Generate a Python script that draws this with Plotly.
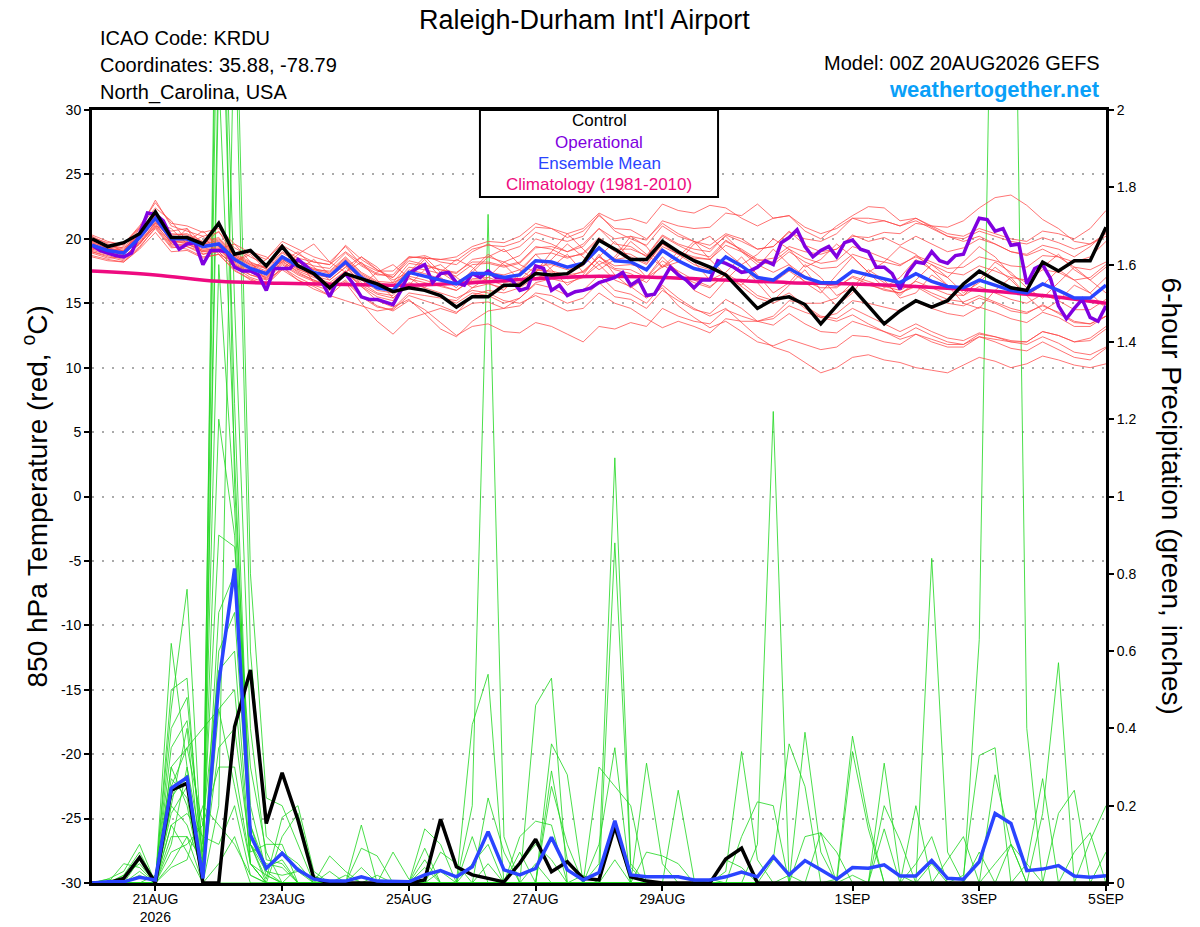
import pandas as pd
import plotly.graph_objects as go

# GEFS 00Z 20AUG2026 run, 6-hourly to 384h (operational GFS is 3-hourly)
run_start = "2026-08-20 00:00"
run_end = "2026-09-05 00:00"
times = pd.date_range(run_start, periods=65, freq="6h")
op_times = pd.date_range(run_start, periods=129, freq="3h")
clim_times = pd.date_range(run_start, periods=17, freq="D")

# 850 hPa temperature (C)
control_temp = [
    20.0, 19.4, 19.7, 20.4, 22.1, 20.1, 20.1, 19.6, 21.2, 18.8, 19.1, 17.9, 19.4,
    17.9, 17.3, 16.2, 17.3, 16.9, 16.5, 15.9, 16.2, 16.0, 15.6, 14.7, 15.5, 15.5,
    16.4, 16.4, 17.3, 17.2, 17.3, 18.1, 19.9, 19.2, 18.4, 18.4, 19.8, 19.0, 18.3,
    17.8, 17.2, 15.9, 14.6, 15.3, 15.5, 14.9, 13.4, 14.8, 16.2, 14.8, 13.4, 14.4,
    15.2, 14.7, 15.2, 16.5, 17.5, 16.8, 16.2, 16.0, 18.2, 17.5, 18.3, 18.3, 20.9,
]
mean_temp = [
    19.5, 19.1, 18.9, 20.1, 21.6, 20.0, 20.0, 19.4, 19.6, 18.4, 17.7, 17.3, 18.6,
    17.9, 17.4, 17.1, 18.2, 17.0, 16.2, 16.0, 17.4, 17.1, 16.8, 16.5, 17.3, 17.3,
    17.0, 17.2, 18.3, 18.2, 17.8, 18.1, 19.3, 18.3, 18.2, 17.6, 19.1, 18.3, 17.7,
    17.4, 18.6, 17.9, 17.0, 16.8, 17.7, 17.0, 16.6, 16.6, 17.5, 17.2, 16.9, 16.6,
    17.3, 16.7, 16.3, 16.2, 16.8, 16.4, 16.0, 15.8, 16.5, 16.0, 15.4, 15.4, 16.4,
]
oper_temp = [
    19.5, 19.1, 18.9, 18.7, 18.6, 18.9, 20.4, 22.0, 21.9, 21.4, 20.1, 19.2, 19.6,
    19.7, 18.0, 19.1, 19.1, 19.0, 17.8, 17.5, 17.5, 17.2, 16.0, 17.7, 17.7, 17.7,
    18.4, 17.9, 17.3, 16.7, 15.5, 16.8, 17.3, 16.5, 15.5, 15.3, 15.3, 15.1, 14.9,
    16.0, 17.3, 17.7, 18.0, 16.6, 17.3, 17.4, 16.6, 16.4, 17.3, 17.0, 17.5, 17.0,
    17.0, 16.8, 16.0, 16.2, 17.9, 17.7, 16.0, 16.4, 15.6, 15.9, 16.0, 16.2, 16.6,
    16.8, 17.0, 17.4, 16.4, 16.8, 15.6, 15.7, 16.8, 17.8, 17.2, 16.8, 16.2, 16.8,
    16.8, 18.3, 18.1, 17.8, 17.4, 17.5, 17.8, 18.3, 18.0, 19.7, 20.1, 20.7, 19.4,
    18.6, 19.1, 19.4, 18.6, 19.7, 19.9, 19.2, 19.0, 17.8, 17.8, 17.3, 16.1, 17.4,
    18.2, 18.1, 19.0, 18.3, 18.1, 18.7, 18.8, 20.3, 21.6, 21.5, 20.6, 20.8, 19.5,
    19.6, 16.5, 17.7, 18.0, 16.9, 14.8, 13.8, 14.6, 15.3, 13.9, 13.6, 14.8,
]
clim_temp = [17.5, 17.2, 16.7, 16.55, 16.45, 16.4, 16.6, 16.9, 17.1,
             17.0, 16.8, 16.6, 16.5, 16.3, 16.0, 15.6, 15.0]

temp_members = [
    [20.3, 19.8, 19.5, 20.8, 23.0, 21.0, 20.6, 20.2, 20.5, 19.3, 18.6, 18.0, 19.5,
     18.8, 18.2, 18.0, 19.5, 18.4, 17.6, 17.0, 18.5, 18.7, 18.2, 18.0, 19.0, 19.6,
     19.0, 19.4, 20.5, 20.1, 19.8, 20.2, 21.9, 20.6, 20.0, 19.5, 21.0, 20.2, 19.8,
     19.5, 20.4, 20.0, 19.2, 19.4, 20.6, 19.5, 19.0, 19.2, 20.3, 19.8, 20.1, 19.5,
     20.2, 19.6, 19.0, 19.3, 20.0, 19.6, 19.0, 18.8, 19.5, 19.2, 18.6, 19.4, 20.5],
    [18.6, 18.3, 18.2, 19.2, 20.5, 19.0, 19.1, 18.5, 18.8, 17.5, 16.9, 16.4, 17.8,
     16.8, 16.3, 15.6, 16.7, 15.5, 14.7, 14.5, 15.6, 15.2, 14.8, 14.3, 15.0, 15.1,
     14.6, 14.8, 15.8, 15.6, 15.0, 15.4, 16.6, 15.5, 15.3, 14.6, 16.0, 15.2, 14.5,
     14.2, 15.3, 14.6, 13.6, 13.3, 14.2, 13.4, 12.8, 12.7, 13.6, 13.2, 12.8, 12.4,
     13.1, 12.5, 12.0, 11.8, 12.4, 12.0, 11.5, 11.3, 12.0, 11.4, 10.8, 10.6, 11.5],
    [19.8, 19.2, 19.6, 20.9, 22.4, 21.4, 19.8, 20.6, 19.4, 18.2, 19.0, 18.6, 17.6,
     18.8, 19.6, 18.2, 17.4, 18.6, 17.8, 16.6, 17.2, 18.4, 17.0, 16.2, 17.6, 18.8,
     18.0, 16.8, 17.4, 19.0, 20.4, 19.2, 18.0, 18.6, 20.2, 19.4, 17.8, 18.6, 19.8,
     18.4, 17.2, 16.4, 17.8, 19.2, 18.0, 16.6, 15.8, 17.2, 18.6, 17.4, 16.2, 17.0,
     18.4, 17.6, 16.4, 15.6, 16.8, 18.2, 17.4, 16.2, 15.4, 16.6, 17.8, 16.8, 15.8],
    [19.1, 18.8, 18.5, 19.8, 21.2, 19.6, 19.4, 19.0, 19.2, 18.0, 17.2, 16.9, 18.1,
     17.3, 16.8, 16.4, 17.4, 16.3, 15.5, 15.2, 16.5, 16.0, 15.5, 15.0, 15.8, 15.6,
     15.0, 15.4, 16.5, 16.2, 15.6, 16.0, 17.2, 16.0, 15.7, 15.0, 16.4, 15.4, 14.6,
     14.0, 14.6, 13.5, 12.4, 11.6, 11.2, 10.4, 9.6, 10.0, 10.8, 11.0, 10.6, 10.4,
     10.0, 9.8, 9.6, 10.2, 10.8, 10.5, 10.0, 10.3, 10.9, 10.6, 10.2, 10.0, 10.3],
    [19.3, 19.0, 18.8, 20.0, 22.0, 20.4, 20.3, 19.7, 20.0, 18.8, 18.1, 17.8, 19.2,
     18.5, 18.2, 18.0, 19.0, 18.1, 17.5, 17.5, 18.6, 18.5, 18.4, 18.6, 19.4, 19.8,
     19.7, 20.2, 21.2, 20.8, 20.1, 20.6, 21.8, 20.8, 20.7, 20.0, 21.2, 20.4, 19.8,
     19.2, 20.2, 19.0, 18.0, 17.4, 18.0, 17.1, 16.5, 16.3, 17.0, 16.5, 16.0, 15.8,
     16.3, 15.6, 15.0, 14.8, 15.4, 15.0, 14.4, 14.2, 14.9, 14.2, 13.5, 13.4, 14.0],
    [19.9, 19.5, 19.3, 20.2, 21.5, 19.8, 19.9, 19.4, 19.7, 18.6, 17.9, 17.4, 18.3,
     17.4, 16.8, 16.2, 16.6, 15.0, 13.6, 12.6, 13.8, 14.2, 14.6, 14.2, 15.6, 16.0,
     15.8, 16.2, 17.0, 17.2, 17.0, 17.5, 18.6, 17.9, 18.0, 17.7, 19.4, 18.8, 18.5,
     18.4, 19.8, 19.2, 18.4, 18.2, 19.2, 18.5, 18.1, 18.3, 19.4, 19.0, 18.5, 18.0,
     18.6, 18.0, 17.4, 17.2, 17.9, 17.5, 17.0, 16.8, 17.6, 17.4, 16.8, 17.0, 18.0],
    [19.0, 18.7, 18.4, 19.6, 21.0, 19.5, 19.6, 19.1, 19.2, 18.0, 17.4, 17.0, 18.4,
     17.6, 17.2, 17.0, 18.0, 16.8, 16.0, 15.8, 17.1, 16.8, 16.4, 16.0, 16.9, 17.0,
     16.6, 16.8, 17.9, 18.0, 17.6, 17.9, 19.2, 18.4, 18.6, 18.0, 19.6, 19.0, 18.6,
     18.4, 19.5, 19.0, 18.3, 18.5, 19.4, 19.0, 18.8, 19.2, 20.2, 20.1, 20.5, 20.4,
     21.2, 21.0, 20.9, 21.4, 22.4, 23.2, 23.4, 22.6, 21.5, 20.8, 19.8, 19.6, 20.2],
    [20.1, 19.7, 19.6, 21.0, 22.8, 21.2, 21.0, 20.5, 20.8, 19.6, 18.9, 18.4, 19.8,
     19.2, 18.6, 18.2, 19.4, 18.0, 17.3, 17.0, 18.3, 18.0, 17.6, 17.4, 18.2, 18.2,
     17.9, 18.2, 19.4, 19.2, 18.6, 18.8, 20.0, 19.0, 18.8, 18.1, 19.6, 18.8, 18.0,
     17.6, 18.6, 17.8, 16.9, 16.6, 17.5, 16.7, 16.2, 16.2, 17.1, 16.7, 16.3, 16.0,
     16.7, 16.2, 15.7, 15.6, 16.3, 15.8, 15.3, 15.0, 15.7, 15.2, 14.5, 14.5, 15.3],
    [18.9, 18.5, 18.6, 19.6, 21.3, 19.9, 19.6, 19.0, 19.0, 17.8, 17.0, 16.6, 17.8,
     17.0, 16.4, 16.0, 16.8, 15.6, 14.8, 14.4, 15.2, 14.5, 13.5, 12.5, 13.2, 13.4,
     12.8, 12.7, 13.5, 13.2, 12.6, 12.0, 13.2, 13.0, 13.5, 13.2, 14.6, 14.0, 13.6,
     13.4, 14.5, 14.0, 13.6, 13.8, 14.8, 14.3, 13.9, 14.2, 15.2, 15.0, 14.7, 14.4,
     15.1, 14.6, 14.2, 14.0, 14.7, 14.3, 13.8, 13.5, 14.3, 13.9, 13.2, 13.2, 14.0],
    [19.6, 19.2, 19.0, 20.2, 21.8, 20.2, 20.1, 19.6, 19.8, 18.7, 18.0, 17.7, 19.0,
     18.3, 17.9, 17.7, 18.9, 17.9, 17.2, 17.2, 18.6, 18.5, 18.4, 18.3, 19.2, 19.5,
     19.4, 19.8, 20.9, 20.8, 20.4, 20.8, 22.0, 21.4, 21.6, 21.2, 22.7, 22.2, 22.0,
     22.6, 22.4, 21.6, 21.0, 21.6, 21.8, 20.9, 20.4, 20.8, 21.6, 21.2, 21.4, 21.0,
     21.4, 20.8, 20.2, 20.0, 20.6, 20.2, 19.8, 19.6, 20.1, 19.7, 19.2, 19.6, 20.4],
    [19.2, 19.4, 18.6, 19.6, 21.0, 20.6, 20.8, 18.8, 19.2, 19.6, 18.2, 16.8, 17.6,
     18.4, 16.6, 16.2, 17.4, 18.2, 16.8, 15.4, 16.4, 17.6, 18.0, 17.0, 16.2, 17.0,
     18.2, 17.6, 16.8, 17.8, 18.8, 17.4, 18.6, 19.8, 18.4, 17.0, 17.8, 19.0, 18.2,
     16.8, 17.4, 18.6, 17.2, 15.8, 16.6, 18.0, 17.0, 15.6, 16.2, 17.6, 16.8, 15.4,
     15.8, 17.2, 16.4, 15.0, 14.6, 16.0, 17.0, 15.6, 14.4, 15.2, 16.4, 15.8, 14.6],
    [19.2, 18.9, 18.6, 19.7, 21.1, 19.7, 19.7, 19.1, 19.3, 18.1, 17.4, 17.0, 18.2,
     17.5, 17.0, 16.6, 17.5, 16.3, 15.2, 14.7, 15.3, 14.2, 13.0, 12.4, 13.6, 14.4,
     14.6, 15.4, 16.6, 16.9, 16.6, 17.0, 18.3, 17.6, 17.3, 16.6, 18.0, 17.2, 16.6,
     16.2, 17.3, 16.6, 15.6, 15.2, 15.8, 14.8, 14.0, 13.8, 14.6, 14.0, 13.4, 12.8,
     13.4, 12.8, 12.3, 12.1, 12.7, 12.4, 12.0, 11.8, 12.4, 11.9, 11.2, 11.0, 11.6],
    [20.2, 19.6, 19.0, 20.8, 21.8, 19.6, 20.8, 19.6, 20.6, 18.6, 17.6, 18.4, 19.6,
     17.6, 18.4, 17.2, 18.0, 16.4, 17.4, 18.0, 17.0, 16.2, 17.4, 18.4, 17.8, 16.6,
     16.0, 17.4, 18.8, 17.6, 16.4, 17.2, 18.8, 17.2, 16.2, 17.0, 18.6, 17.4, 16.0,
     15.4, 16.8, 18.0, 16.6, 15.2, 16.4, 17.6, 16.0, 14.8, 15.8, 17.4, 16.6, 15.6,
     16.8, 18.0, 17.0, 15.8, 16.6, 17.8, 16.8, 15.6, 16.4, 17.6, 16.8, 15.8, 17.0],
    [19.7, 19.3, 19.1, 20.3, 21.9, 20.3, 20.4, 19.8, 20.1, 18.9, 18.2, 17.7, 19.4,
     18.2, 17.6, 17.5, 18.6, 17.4, 16.7, 16.6, 18.1, 17.9, 17.6, 17.3, 18.4, 18.6,
     18.2, 18.7, 20.0, 19.6, 19.0, 19.4, 20.8, 19.6, 19.4, 18.6, 20.2, 19.5, 18.9,
     18.6, 19.9, 19.1, 18.2, 18.0, 19.0, 18.2, 17.7, 17.8, 18.8, 18.4, 18.2, 17.9,
     18.7, 18.2, 17.7, 17.8, 18.6, 18.3, 17.9, 17.8, 18.7, 18.6, 18.2, 18.6, 19.8],
    [19.3, 18.9, 18.8, 19.9, 21.4, 19.8, 19.8, 19.2, 19.4, 18.2, 17.5, 17.1, 18.4,
     17.7, 17.1, 16.8, 17.8, 16.6, 15.8, 15.6, 16.9, 16.6, 16.3, 16.0, 16.8, 16.8,
     16.4, 16.6, 17.6, 17.4, 16.9, 17.0, 18.0, 16.8, 16.3, 15.4, 16.2, 14.8, 13.9,
     13.1, 13.6, 12.8, 12.0, 11.7, 12.2, 11.8, 11.4, 11.6, 12.5, 12.4, 12.0, 11.8,
     12.6, 12.2, 11.8, 11.8, 12.6, 12.4, 12.1, 12.0, 12.8, 12.5, 12.0, 12.1, 13.0],
    [19.8, 19.5, 19.2, 20.4, 22.0, 20.2, 20.0, 19.5, 19.6, 18.4, 17.8, 17.3, 18.7,
     18.0, 17.6, 17.3, 18.4, 17.2, 16.5, 16.3, 17.6, 17.3, 16.9, 16.5, 17.2, 17.4,
     17.2, 17.6, 18.8, 18.9, 18.5, 18.9, 20.1, 19.2, 19.2, 18.7, 20.3, 19.6, 19.2,
     19.0, 20.3, 19.8, 19.2, 19.4, 20.5, 20.0, 19.8, 20.4, 21.6, 21.6, 21.4, 21.0,
     21.6, 21.0, 20.4, 20.2, 20.8, 20.4, 20.0, 19.8, 20.6, 20.4, 20.0, 20.8, 22.2],
    [19.0, 18.6, 18.3, 19.4, 20.8, 19.3, 19.4, 18.8, 19.0, 17.8, 17.2, 16.8, 18.0,
     17.2, 16.7, 16.4, 17.5, 16.4, 15.7, 15.4, 16.6, 16.2, 15.8, 15.4, 16.0, 15.8,
     15.2, 15.0, 15.6, 15.0, 14.4, 14.6, 15.8, 15.0, 14.6, 13.8, 13.1, 13.6, 13.2,
     12.7, 13.8, 13.6, 13.6, 14.0, 15.2, 15.0, 15.0, 15.4, 16.6, 16.4, 16.1, 15.8,
     16.4, 15.8, 15.3, 15.1, 15.6, 15.1, 14.6, 14.3, 14.8, 14.3, 13.6, 13.4, 14.0],
    [19.5, 19.2, 19.1, 20.3, 21.7, 20.1, 20.2, 19.6, 19.9, 18.7, 18.0, 17.5, 18.9,
     18.2, 17.7, 17.4, 18.5, 17.3, 16.6, 16.4, 17.8, 17.6, 17.3, 17.1, 18.0, 18.1,
     17.8, 18.1, 19.3, 19.4, 19.0, 19.6, 20.8, 20.0, 20.2, 19.9, 21.4, 21.0, 20.8,
     20.9, 22.0, 21.8, 22.7, 21.6, 21.8, 20.6, 20.0, 21.0, 21.8, 22.5, 22.4, 21.4,
     21.6, 20.9, 20.2, 19.8, 20.2, 19.6, 19.0, 18.7, 19.2, 18.6, 17.8, 17.6, 18.2],
    [18.7, 18.4, 18.2, 19.3, 20.9, 19.4, 19.2, 18.6, 18.8, 17.6, 16.8, 16.4, 17.6,
     16.8, 16.1, 15.6, 15.2, 14.8, 14.4, 14.6, 15.8, 15.6, 15.4, 15.2, 16.2, 16.5,
     16.2, 16.6, 17.6, 17.5, 17.2, 17.4, 18.6, 17.7, 17.6, 17.0, 18.3, 17.5, 16.8,
     16.3, 17.2, 16.3, 15.4, 15.0, 15.6, 14.6, 13.9, 13.6, 14.1, 13.4, 12.8, 12.2,
     12.6, 12.0, 11.6, 11.6, 12.4, 12.2, 12.0, 12.0, 12.8, 12.5, 12.0, 12.3, 13.2],
    [19.7, 19.0, 19.4, 20.4, 21.2, 20.8, 19.6, 20.2, 18.8, 18.2, 18.8, 17.6, 18.2,
     19.0, 17.8, 16.8, 17.8, 18.6, 17.6, 16.8, 17.4, 18.6, 17.4, 16.6, 17.4, 18.6,
     19.2, 18.0, 17.4, 18.4, 19.6, 18.6, 17.6, 18.4, 19.8, 18.8, 17.8, 18.2, 19.6,
     20.2, 19.0, 18.0, 18.8, 20.0, 19.2, 17.8, 18.4, 19.6, 18.6, 17.4, 18.2, 19.4,
     18.8, 17.6, 17.0, 18.2, 19.4, 18.6, 17.2, 16.6, 17.8, 18.8, 17.6, 16.8, 17.8],
]

# 6-hour precipitation (inches)
control_precip = [
    0, 0, 0.012, 0.066, 0, 0.24, 0.258, 0, 0, 0.404, 0.551, 0.154, 0.285,
    0.163, 0.012, 0, 0, 0, 0, 0, 0, 0.008, 0.165, 0.042, 0.021, 0.012,
    0.003, 0.051, 0.113, 0.029, 0.055, 0.012, 0.008, 0.146, 0.016, 0.005, 0, 0, 0,
    0, 0.062, 0.09, 0, 0, 0, 0, 0, 0, 0, 0, 0, 0,
    0, 0, 0, 0, 0, 0, 0, 0, 0, 0, 0, 0, 0,
]
mean_precip = [
    0, 0.003, 0.003, 0.015, 0.008, 0.245, 0.273, 0.012, 0.517, 0.814, 0.124, 0.038, 0.077,
    0.034, 0.010, 0.005, 0.005, 0.016, 0.005, 0.003, 0.003, 0.021, 0.032, 0.016, 0.042, 0.133,
    0.034, 0.021, 0.038, 0.118, 0.034, 0.008, 0.027, 0.161, 0.021, 0.016, 0.015, 0.016, 0.008,
    0.008, 0.016, 0.028, 0.016, 0.068, 0.021, 0.058, 0.034, 0.010, 0.040, 0.038, 0.047, 0.018,
    0.018, 0.058, 0.012, 0.010, 0.055, 0.180, 0.154, 0.032, 0.036, 0.045, 0.018, 0.015, 0.019,
]

precip_members = [
    [0, .01, .03, .10, 0, .62, .30, 0, 2.6, 1.24, .1, .05, .04,
     0, 0, 0, 0, 0, .02, 0, 0, 0, 0, 0, .05, .1,
     0, 0, 0, 0, 0, 0, 0, 0, 0, 0, 0, 0, 0,
     0, 0, 0, .1, 1.22, 0, 0, 0, 0, 0, 0, 0, 0,
     0, 0, 0, 0, .08, 0, 0, 0, 0, 0, 0, 0, 0],
    [0, 0, 0, .06, .01, .45, .76, .02, 3.0, 1.03, .2, .03, .02,
     .03, 0, 0, 0, 0, 0, 0, 0, .04, 0, 0, 0, 0,
     0, 0, 0, .25, .1, 0, 0, 0, 0, 0, 0, 0, 0,
     0, 0, 0, 0, 0, 0, .39, .08, 0, 0, 0, 0, 0,
     0, 0, 0, 0, 0, .05, .1, 0, 0, 0, 0, 0, 0],
    [0, 0, .02, .08, 0, .50, .53, 0, 2.2, 2.5, .8, .22, .2,
     .1, 0, 0, 0, 0, 0, 0, 0, 0, .03, 0, 0, 0,
     0, 0, .05, 0, 0, 0, 0, 0, 0, 0, 0, 0, 0,
     0, 0, 0, 0, .06, .36, .25, 0, 0, 0, 0, 0, 0,
     0, 0, 0, 0, 0, 0, 0, 0, 0, 0, .08, .13, 0],
    [0, 0, 0, 0, 0, .40, .48, .05, 1.6, .97, .15, .02, 0,
     0, 0, 0, 0, .15, 0, 0, 0, 0, 0, 0, 0, 0,
     0, 0, 0, 0, 0, .02, 0, .88, .04, 0, 0, 0, 0,
     0, 0, 0, 0, 0, 0, 0, 0, 0, 0, 0, 0, 0,
     0, .05, 0, 0, 0, 0, 0, .05, .27, 0, 0, 0, 0],
    [0, .01, 0, 0, 0, .35, .42, .1, .9, .87, .3, .08, 0,
     0, 0, .03, 0, 0, 0, 0, 0, .14, .1, 0, 0, 0,
     0, 0, 0, 0, 0, 0, 0, 0, 0, 0, 0, 0, 0,
     .01, 0, 0, 0, 0, 0, 0, 0, .01, .38, .16, 0, 0,
     0, 0, 0, 0, 0, 0, 0, 0, 0, 0, 0, 0, 0],
    [0, 0, .05, .04, 0, .30, .20, 0, .7, .8, .1, .01, .17,
     .2, .03, 0, 0, 0, 0, 0, 0, 0, 0, 0, .41, .54,
     0, 0, 0, 0, 0, 0, 0, 0, 0, 0, 0, 0, 0,
     0, 0, 0, 0, 0, .02, 0, 0, 0, 0, 0, .2, .11,
     0, 0, 0, 0, 0, 0, 0, 0, 0, 0, 0, 0, 0],
    [0, 0, 0, 0, .02, .25, .35, .15, .55, .6, .05, 0, 0,
     0, 0, 0, .02, 0, 0, 0, 0, 0, 0, 0, .2, 1.73,
     .12, 0, 0, 0, 0, 0, 0, 0, 0, 0, 0, 0, 0,
     0, 0, 0, 0, 0, 0, .12, .13, 0, 0, 0, 0, 0,
     0, 0, 0, 0, 0, 0, 0, 0, 0, 0, 0, 0, 0],
    [0, 0, 0, 0, 0, .22, .28, 0, .45, .5, .05, .02, 0,
     0, 0, 0, 0, .09, .07, 0, 0, 0, 0, 0, 0, 0,
     0, 0, 0, 0, 0, 0, .3, .25, .2, 0, 0, 0, 0,
     0, 0, 0, 0, 0, 0, 0, 0, 0, 0, 0, 0, 0,
     0, 0, 0, 0, .63, 3.0, 3.2, .4, 0, 0, 0, 0, 0],
    [0, 0, .02, .05, 0, .20, .15, .03, .35, .4, .08, .1, .1,
     0, 0, 0, 0, 0, 0, 0, 0, .09, 0, 0, 0, 0,
     0, 0, 0, 0, 0, 0, .05, 1.1, .05, 0, 0, 0, 0,
     0, 0, 0, 0, 0, 0, 0, 0, 0, 0, 0, 0, 0,
     .2, 0, 0, 0, 0, 0, 0, 0, 0, .18, .24, 0, 0],
    [0, 0, 0, 0, 0, .18, .25, 0, .2, 2.3, .6, .12, .08,
     .05, 0, 0, 0, 0, 0, 0, 0, 0, 0, 0, 0, .05,
     0, .12, .16, .15, 0, 0, 0, 0, 0, 0, 0, 0, 0,
     0, 0, 0, 0, 0, 0, 0, 0, 0, 0, 0, 0, 0,
     0, .84, .08, 0, 0, 0, 0, 0, 0, 0, 0, 0, 0],
    [0, 0, 0, 0, 0, .15, .18, .12, .1, .2, .02, 0, 0,
     0, 0, .07, .03, 0, 0, 0, 0, 0, 0, 0, 0, 0,
     0, 0, .46, .53, 0, 0, 0, 0, 0, 0, 0, 0, 0,
     0, 0, 0, 0, 0, 0, 0, .13, .08, 0, 0, 0, 0,
     0, 0, 0, 0, 0, 0, 0, 0, 0, 0, 0, .11, .2],
    [0, 0, 0, .03, 0, .12, .12, 0, .05, .12, 0, 0, 0,
     0, 0, 0, 0, .04, 0, .08, .01, 0, 0, 0, 0, 0,
     0, 0, 0, .36, .28, 0, 0, 0, 0, 0, 0, 0, 0,
     0, 0, 0, 0, 0, 0, 0, 0, 0, 0, 0, 0, 0,
     0, 0, .06, .12, 0, 0, 0, 0, 0, 0, 0, 0, .08],
    [0, 0, 0, 0, 0, .10, .30, .08, 2.8, 1.5, .4, .06, .05,
     0, 0, 0, 0, 0, 0, 0, 0, 0, 0, 0, 0, 0,
     0, .08, 0, 0, 0, 0, 0, 0, 0, 0, 0, .24, .01,
     0, 0, 0, 0, 0, 0, 0, 0, 0, .34, .14, 0, 0,
     0, 0, 0, 0, 0, 0, 0, 0, 0, 0, 0, 0, 0],
    [0, 0, 0, 0, 0, .08, .10, .15, .3, .3, .05, 0, .12,
     .18, .02, 0, 0, 0, 0, 0, 0, 0, 0, 0, 0, 0,
     0, 0, 0, .29, .06, 0, 0, 0, 0, 0, 0, 0, 0,
     0, .06, .04, 0, 0, 0, 0, 0, 0, 0, 0, 0, 0,
     0, 0, 0, .02, .33, .35, 0, 0, 0, 0, 0, 0, 0],
    [0, 0, 0, .02, 0, .27, .22, 0, .6, .7, .1, 0, 0,
     .04, 0, 0, 0, 0, 0, 0, 0, .06, 0, 0, 0, 0,
     0, 0, 0, 0, 0, 0, .1, .35, 0, 0, 0, 0, 0,
     0, 0, 0, 0, 0, 0, 0, 0, 0, 0, 0, .31, .02,
     0, 0, 0, 0, 0, 0, 0, 0, 0, 0, 0, 0, 0],
    [0, 0, 0, 0, 0, .30, .35, .40, .45, .25, .05, 0, 0,
     0, 0, 0, 0, 0, 0, 0, 0, 0, .08, .05, 0, 0,
     0, 0, 0, 0, 0, 0, 0, .15, 0, 0, 0, 0, 0,
     0, 0, 0, 0, 0, 0, 0, 0, 0, 0, 0, .14, 0,
     0, 0, 0, 0, 0, .28, .1, 0, 0, 0, 0, 0, 0],
    [0, 0, 0, 0, 0, .15, .08, 0, 0, 0, 0, 0, 0,
     0, 0, 0, 0, 0, 0, 0, 0, 0, 0, 0, .12, 0,
     0, 0, 0, 0, 0, 0, 0, .06, 0, .31, .05, 0, 0,
     0, 0, 0, 0, 0, 0, 0, 0, 0, .02, 0, 0, 0,
     0, 0, 0, 0, 0, 0, 0, 0, .18, .57, 0, 0, 0],
    [0, 0, 0, 0, 0, .05, .12, .06, 1.2, .9, .15, .04, .06,
     0, 0, 0, 0, 0, 0, 0, 0, 0, 0, 0, 0, 0,
     0, 0, 0, 0, 0, 0, 0, 0, 0, .08, .07, .05, 0,
     0, 0, 0, 0, 0, 0, 0, 0, 0, 0, 0, 0, 0,
     .05, .12, 0, 0, 0, 0, 0, 0, 0, 0, 0, 0, 0],
    [0, 0, 0, 0, 0, .04, .06, .2, .15, .1, .02, 0, 0,
     0, 0, 0, 0, 0, 0, 0, 0, 0, 0, 0, 0, .22,
     .08, 0, 0, 0, 0, 0, 0, 0, 0, 0, 0, 0, 0,
     0, .03, .34, .06, 0, 0, 0, 0, 0, 0, 0, 0, 0,
     0, 0, 0, 0, 0, 0, .1, .05, 0, 0, 0, 0, 0],
    [0, 0, 0, 0, 0, .20, .40, 0, 2.1, 1.1, .1, .03, 0,
     0, 0, 0, 0, 0, 0, 0, 0, 0, 0, 0, 0, 0,
     0, .05, .1, .06, 0, 0, 0, 0, 0, 0, 0, 0, 0,
     0, 0, .12, .21, .2, 0, 0, 0, 0, 0, 0, 0, 0,
     0, 0, 0, 0, 0, 0, 0, 0, 0, 0, 0, 0, 0],
]

tick_dates = ["2026-08-21", "2026-08-23", "2026-08-25", "2026-08-27",
              "2026-08-29", "2026-09-01", "2026-09-03", "2026-09-05"]
tick_text = ["21AUG<br>2026", "23AUG", "25AUG", "27AUG",
             "29AUG", "1SEP", "3SEP", "5SEP"]
temp_ticks = [-30, -25, -20, -15, -10, -5, 0, 5, 10, 15, 20, 25, 30]
precip_ticks = [0, 0.2, 0.4, 0.6, 0.8, 1.0, 1.2, 1.4, 1.6, 1.8, 2.0]
precip_labels = ["0", "0.2", "0.4", "0.6", "0.8", "1", "1.2", "1.4", "1.6", "1.8", "2"]

FONT = "Liberation Sans, Arial, Helvetica, sans-serif"
RED = "rgba(255,70,70,0.75)"
GREEN = "rgba(30,215,30,0.8)"
PURPLE = "#8000E0"
BLUE = "#2A44FF"
PINK = "#EE0A80"

fig = go.Figure()

# precipitation (right axis, base y)
for m in precip_members:
    fig.add_trace(go.Scatter(x=times, y=m, mode="lines", yaxis="y",
                             line=dict(color=GREEN, width=1)))
fig.add_trace(go.Scatter(x=times, y=control_precip, mode="lines", yaxis="y",
                         line=dict(color="black", width=3.5)))
fig.add_trace(go.Scatter(x=times, y=mean_precip, mode="lines", yaxis="y",
                         line=dict(color=BLUE, width=3.5)))

# temperature (left axis, overlaid y2 so it sits above the precip lines)
for m in temp_members:
    fig.add_trace(go.Scatter(x=times, y=m, mode="lines", yaxis="y2",
                             line=dict(color=RED, width=1)))
fig.add_trace(go.Scatter(x=clim_times, y=clim_temp, mode="lines", yaxis="y2",
                         line=dict(color=PINK, width=3.5, shape="spline")))
fig.add_trace(go.Scatter(x=op_times, y=oper_temp, mode="lines", yaxis="y2",
                         line=dict(color=PURPLE, width=3.5)))
fig.add_trace(go.Scatter(x=times, y=mean_temp, mode="lines", yaxis="y2",
                         line=dict(color=BLUE, width=3.5)))
fig.add_trace(go.Scatter(x=times, y=control_temp, mode="lines", yaxis="y2",
                         line=dict(color="black", width=3.5)))

axis_common = dict(showline=True, linewidth=3, linecolor="black", automargin=False,
                   ticks="outside", ticklen=5, tickwidth=2, tickcolor="black",
                   tickfont=dict(size=14, color="black"), zeroline=False)

fig.update_layout(
    width=1200, height=927,
    margin=dict(l=92, r=94, t=110, b=44),
    paper_bgcolor="white", plot_bgcolor="white",
    font=dict(family=FONT, color="black"),
    showlegend=False,
    xaxis=dict(range=[run_start, run_end], tickvals=tick_dates, ticktext=tick_text,
               showgrid=False, mirror=True, ticklabelstandoff=-4, **axis_common),
    yaxis=dict(range=[0, 2], side="right", tickvals=precip_ticks, ticktext=precip_labels,
               showgrid=False, **axis_common),
    yaxis2=dict(range=[-30, 30], side="left", overlaying="y", tickvals=temp_ticks,
                ticktext=[str(v) for v in temp_ticks],
                showgrid=True, gridcolor="#AAAAAA", gridwidth=1.5, griddash="2px,8px",
                **axis_common),
)


def note(text, x, y, size, color="black", xanchor="center", angle=0):
    fig.add_annotation(text=text, xref="paper", yref="paper", x=x, y=y,
                       xanchor=xanchor, yanchor="middle", textangle=angle,
                       showarrow=False, font=dict(size=size, color=color))


# legend box
fig.add_shape(type="rect", xref="paper", yref="paper", x0=0.3826, x1=0.6174,
              y0=0.8874, y1=1.0, line=dict(color="black", width=2),
              fillcolor="white", layer="above")
legend_items = [("Control", "black", 0.9858), ("Operational", PURPLE, 0.9586),
                ("Ensemble Mean", BLUE, 0.9314), ("Climatology (1981-2010)", PINK, 0.9030)]
for txt, col, yy in legend_items:
    note(txt, 0.5, yy, 17, col)

# header text
note("Raleigh-Durham Int'l Airport", 0.486, 1.117, 27)
for txt, yy in [("ICAO Code: KRDU", 1.093), ("Coordinates: 35.88, -78.79", 1.058),
                ("North_Carolina, USA", 1.023)]:
    note(txt, 0.006, yy, 20, xanchor="left")
note("Model: 00Z 20AUG2026 GEFS", 0.996, 1.061, 20, xanchor="right")
note("<b>weathertogether.net</b>", 0.996, 1.026, 22, "#0AA0F8", xanchor="right")

# axis titles
note("850 hPa Temperature (red, <sup>o</sup>C)", -0.0562, 0.5, 28, angle=-90)
note("6-hour Precipitation (green, inches)", 1.065, 0.5, 28, angle=90)

# drop the default page margin so the 1200x927 figure fills the window exactly
fig.write_html("out.html", config={"displayModeBar": False},
               post_script="document.body.style.margin = '0';")
